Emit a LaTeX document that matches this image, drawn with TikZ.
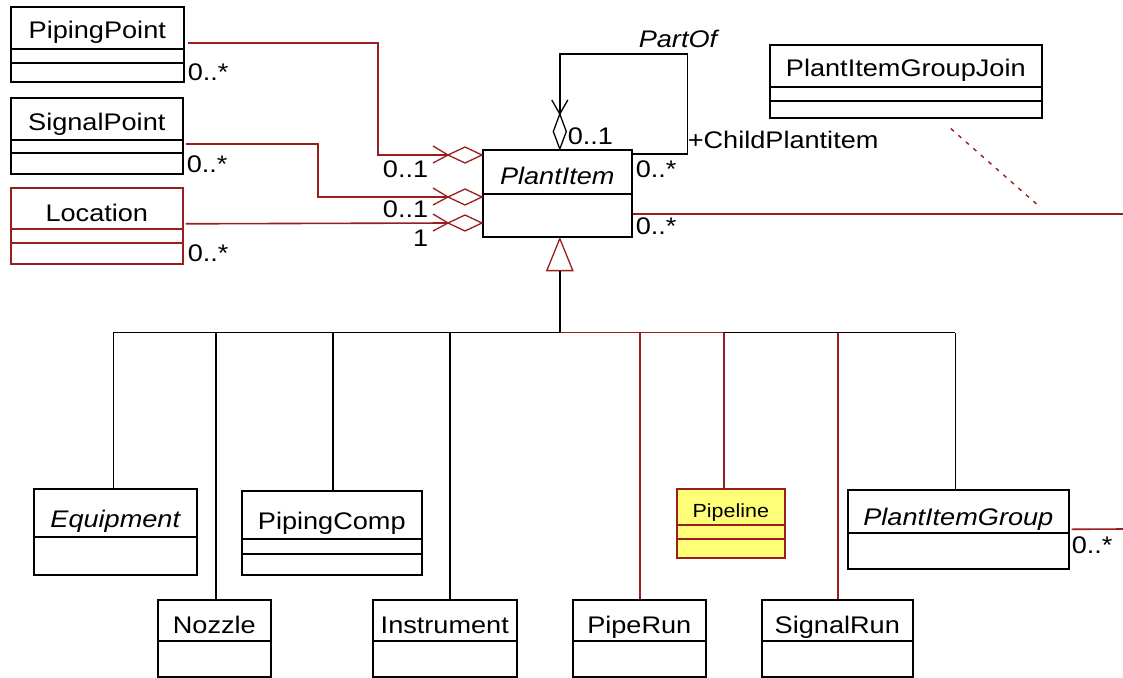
\documentclass[tikz,border=0pt]{standalone}
\usepackage{fontspec}
\setmainfont{Liberation Sans}[FakeStretch=1.13]
\usetikzlibrary{calc}
\definecolor{umlred}{RGB}{153,30,30}
\definecolor{pipefill}{RGB}{255,255,120}
\newcommand{\clsbox}[6][]{\node[cls,#1,minimum width={#5-#3},minimum height={#6-#4}] (#2) at (#3,#4) {};}
\newcommand{\divl}[3][]{\draw[#1] ($(#2.north west)+(0,#3)$) -- ($(#2.north east)+(0,#3)$);}
\newcommand{\hdiam}[1]{%
  \draw[rl,fill=white,line width=1.3pt] (#1) -- ++(-17,-8) -- ++(-17,8) -- ++(17,8) -- cycle;
  \draw[rl,line width=1.3pt] ($(#1)+(-49,-9)$) -- ($(#1)+(-34,0)$) -- ($(#1)+(-49,8)$);}
\begin{document}
\begin{tikzpicture}[x=1pt,y=-1pt,line width=1.6pt,
  cls/.style={draw,fill=white,inner sep=0pt,anchor=north west},
  nm/.style={inner sep=0pt,anchor=base,font=\fontsize{24}{28}\selectfont},
  lab/.style={inner sep=0pt,font=\fontsize{24}{28}\selectfont},
  rl/.style={draw=umlred}]
\useasboundingbox (0,0) rectangle (1123,677);
\fill[white] (0,0) rectangle (1123,677);

% ---------- classes ----------
\clsbox{pp}{10}{6}{183}{81}
\divl{pp}{43} \divl{pp}{57}
\node[nm] (ppn) at ($(pp.north)+(0,33)$) {PipingPoint};

\clsbox{sp}{10}{97}{182}{173}
\divl{sp}{43} \divl{sp}{56}
\node[nm] (spn) at ($(sp.north)+(0,33)$) {SignalPoint};

\clsbox[draw=umlred]{loc}{10}{187}{182}{263}
\divl[rl]{loc}{42} \divl[rl]{loc}{56}
\node[nm] (locn) at ($(loc.north)+(0,34)$) {Location};

\clsbox{pi}{482}{149}{631}{236}
\divl{pi}{45}
\node[nm,font=\fontsize{24}{28}\selectfont\itshape] (pin) at ($(pi.north)+(0,35)$) {PlantItem};

\clsbox{pigj}{769}{44}{1041}{117}
\divl{pigj}{43} \divl{pigj}{57}
\node[nm] (pigjn) at ($(pigj.north)+(0,32)$) {PlantItemGroupJoin};

\clsbox{eq}{33}{488}{196}{574}
\divl{eq}{49}
\node[nm,font=\fontsize{24}{28}\selectfont\itshape] (eqn) at ($(eq.north)+(0,39)$) {Equipment};

\clsbox{pc}{241}{490}{421}{574}
\divl{pc}{49} \divl{pc}{64}
\node[nm] (pcn) at ($(pc.north)+(0,39)$) {PipingComp};

\clsbox[draw=umlred,fill=pipefill]{pl}{676}{488}{784}{557}
\divl[rl]{pl}{37} \divl[rl]{pl}{51}
\node[nm,font=\fontsize{19}{22}\selectfont] (pln) at ($(pl.north)+(0,29)$) {Pipeline};

\clsbox{pig}{847}{489}{1068}{568}
\divl{pig}{44}
\node[nm,font=\fontsize{24}{28}\selectfont\itshape] (pign) at ($(pig.north)+(0,36)$) {PlantItemGroup};

\clsbox{nz}{157}{599}{270}{676}
\divl{nz}{42}
\node[nm] (nzn) at ($(nz.north)+(0,34)$) {Nozzle};

\clsbox{ins}{372}{599}{516}{676}
\divl{ins}{42}
\node[nm] (insn) at ($(ins.north)+(0,34)$) {Instrument};

\clsbox{pr}{572}{599}{705}{676}
\divl{pr}{42}
\node[nm] (prn) at ($(pr.north)+(0,34)$) {PipeRun};

\clsbox{sr}{761}{599}{912}{676}
\divl{sr}{42}
\node[nm] (srn) at ($(sr.north)+(0,34)$) {SignalRun};

% ---------- aggregations into PlantItem ----------
\coordinate (a1) at ($(pi.north west)+(0,6)$);
\coordinate (a2) at ($(pi.north west)+(0,48)$);
\coordinate (a3) at ($(pi.north west)+(0,74)$);
\draw[rl] ($(pp.east)+(3,-1)$) -| ($(a1)+(-104,0)$) -- ($(a1)+(-34,0)$);
\draw[rl] ($(sp.east)+(2,8)$) -| ($(a2)+(-164,0)$) -- ($(a2)+(-34,0)$);
\draw[rl] ($(loc.east)+(2,-2)$) -- ($(a3)+(-34,0)$);
\hdiam{a1} \hdiam{a2} \hdiam{a3}

\node[lab,anchor=base west] (m1) at (187,81) {0..*};
\node[lab,anchor=base west] (m2) at (186,172) {0..*};
\node[lab,anchor=base west] (m3) at (187,261) {0..*};
\node[lab,anchor=base east] (m4) at (429,177) {0..1};
\node[lab,anchor=base east] (m5) at (429,217) {0..1};
\node[lab,anchor=base east] (m6) at (429,246) {1};

% ---------- self association PartOf ----------
\coordinate (s1) at ($(pi.north east)+(0,5)$);
\coordinate (ptop) at ($(pi.north)+(2.5,0)$);
\draw (s1) -- ++(55,0) |- ($(ptop)+(0,-95)$) -- ($(ptop)+(0,-35)$);
\draw[fill=white,line width=1.3pt] (ptop) -- ++(-6.5,-17.5) -- ++(6.5,-17.5) -- ++(6.5,17.5) -- cycle;
\draw[line width=1.3pt] ($(ptop)+(-8,-49)$) -- ($(ptop)+(0,-35)$) -- ($(ptop)+(8,-49)$);
\node[lab,anchor=base west] (m7) at (567,144) {0..1};
\node[lab,anchor=base west,font=\fontsize{24}{28}\selectfont\itshape] (partof) at (638,48) {PartOf};
\node[lab,anchor=base west] (child) at (687,148) {+ChildPlantitem};
\node[lab,anchor=base west] (m8) at (635,177) {0..*};

% ---------- association to PlantItemGroup (right edge) ----------
\coordinate (r1) at (1123,214);
\coordinate (r2) at (1123,529);
\draw[rl] ($(pi.north east)+(0,65)$) -- (r1);
\draw[rl] ($(pig.east)+(2,0)$) -- (r2);
\node[lab,anchor=base west] (m9) at (635,234) {0..*};
\node[lab,anchor=base west] (m10) at (1071,553) {0..*};
\coordinate (dj1) at ($(pigj.south)+(45,10)$);
\coordinate (dj2) at ($(r1)+(-83,-7)$);
\draw[rl,line width=1.4pt,dash pattern=on 4pt off 6pt] (dj1) -- (dj2);

% ---------- generalization ----------
\coordinate (tip) at ($(pi.south)+(2.5,1)$);
\draw[rl,fill=white,line width=1.3pt] (tip) -- ++(-13,32) -- ++(26,0) -- cycle;
\coordinate (tb) at ($(tip)+(0,32)$);
\coordinate (gj) at ($(tb)+(0,62)$);
\draw (tb) -- (gj);
\coordinate (eqc) at ($(eq.north)+(-2,0)$);
\coordinate (nzc) at ($(nz.north)+(1.5,0)$);
\coordinate (pcc) at ($(pc.north)+(1,0)$);
\coordinate (insc) at ($(ins.north)+(5,0)$);
\coordinate (prc) at ($(pr.north)+(0.5,0)$);
\coordinate (plc) at ($(pl.north)+(-7,0)$);
\coordinate (src) at ($(sr.north)+(0.5,0)$);
\coordinate (pigc) at ($(pig.north)+(-3,0)$);
\draw (eqc |- gj) -- (gj);
\draw[rl] (gj) -- (plc |- gj);
\draw (plc |- gj) -- (pigc |- gj);
\draw (eqc) -- (eqc |- gj);
\draw (nzc) -- (nzc |- gj);
\draw (pcc) -- (pcc |- gj);
\draw (insc) -- (insc |- gj);
\draw[rl] (prc) -- (prc |- gj);
\draw[rl] (plc) -- (plc |- gj);
\draw[rl] (src) -- (src |- gj);
\draw (pigc) -- (pigc |- gj);
\end{tikzpicture}
\end{document}
